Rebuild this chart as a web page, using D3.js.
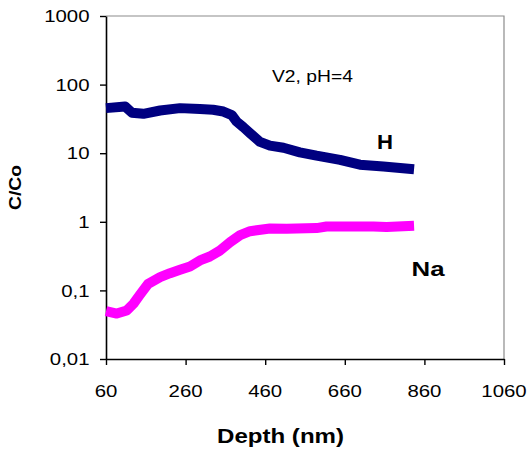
<!DOCTYPE html>
<html>
<head>
<meta charset="utf-8">
<script src="https://cdn.jsdelivr.net/npm/d3@7"></script>
<style>
  body { margin: 0; background: #fff; }
  svg { display: block; }
  text { font-family: "Liberation Sans", Arial, sans-serif; fill: #000; }
</style>
</head>
<body>
<svg id="chart" width="529" height="453"></svg>
<script>
// Depth profile of H and Na (relative concentration C/Co), sample V2 at pH 4
const hDepth = [60, 108, 125, 154, 196, 246, 296, 329, 355, 376, 388, 405, 422, 447, 472, 506, 547, 589, 648, 698, 757, 799, 834];
const hValue = [45.4, 48, 39, 37.5, 41.9, 45.4, 44, 43, 40.5, 36, 29, 24, 19.6, 14.6, 12.9, 12.0, 10.3, 9.2, 8.0, 6.8, 6.4, 6.1, 5.85];

const naDepth = [60, 87, 112, 129, 145, 166, 196, 221, 246, 271, 296, 321, 346, 372, 397, 422, 472, 514, 589, 614, 732, 765, 834];
const naValue = [0.050, 0.046, 0.051, 0.064, 0.086, 0.125, 0.156, 0.178, 0.2, 0.223, 0.273, 0.312, 0.38, 0.505, 0.64, 0.73, 0.8, 0.79, 0.81, 0.855, 0.855, 0.837, 0.874];

const xTicks = [60, 260, 460, 660, 860, 1060];
const yTicks = [0.01, 0.1, 1, 10, 100, 1000];
const yTickLabels = ["0,01", "0,1", "1", "10", "100", "1000"];

const svg = d3.select("#chart");
const plot = { left: 106, right: 504, top: 16, bottom: 359 };

const x = d3.scaleLinear().domain([60, 1060]).range([plot.left, plot.right]);
const y = d3.scaleLog().domain([0.01, 1000]).range([plot.bottom, plot.top]);

// grey frame on the top and right
svg.append("path")
  .attr("d", `M${plot.left},${plot.top}H${plot.right}V${plot.bottom}`)
  .attr("fill", "none")
  .attr("stroke", "#8c8c8c")
  .attr("stroke-width", 1.2);

// y axis (log)
const yAxis = svg.append("g")
  .attr("transform", `translate(${plot.left},0)`)
  .call(d3.axisLeft(y).tickValues(yTicks)
    .tickFormat((d, i) => yTickLabels[i]).tickSize(6).tickSizeOuter(0));
yAxis.select(".domain").attr("stroke", "#000").attr("stroke-width", 1.6);
yAxis.selectAll(".tick line").attr("stroke", "#000").attr("stroke-width", 1.4);
yAxis.selectAll(".tick text")
  .attr("x", 0).attr("dy", "0.33em")
  .attr("transform", "translate(-16.5,0) scale(1.2,1)")
  .style("font-size", "17px")
  .attr("text-anchor", "end");

// x axis
const xAxis = svg.append("g")
  .attr("transform", `translate(0,${plot.bottom})`)
  .call(d3.axisBottom(x).tickValues(xTicks).tickFormat(d3.format("d"))
    .tickSize(6).tickSizeOuter(0));
xAxis.select(".domain").attr("stroke", "#000").attr("stroke-width", 1.6);
xAxis.selectAll(".tick line").attr("stroke", "#000").attr("stroke-width", 1.4);
xAxis.selectAll(".tick text")
  .attr("y", 0).attr("dy", 0)
  .attr("transform", "translate(-0.5,38) scale(1.2,1)")
  .style("font-size", "17px")
  .attr("text-anchor", "middle");

// series, drawn as thick traces of dense markers
const line = d3.line().x(d => x(d[0])).y(d => y(d[1]));
const series = [
  { name: "H", depth: hDepth, value: hValue, color: "#000080" },
  { name: "Na", depth: naDepth, value: naValue, color: "#ff00ff" }
];
series.forEach(s => {
  svg.append("path")
    .datum(d3.zip(s.depth, s.value))
    .attr("d", line)
    .attr("fill", "none")
    .attr("stroke", s.color)
    .attr("stroke-width", 10)
    .attr("stroke-linejoin", "round")
    .attr("stroke-linecap", "butt");
});

// text labels
function label(txt, px, py, opts) {
  const t = svg.append("text")
    .attr("x", px).attr("y", py)
    .style("font-size", opts.size + "px")
    .style("font-weight", opts.bold ? "bold" : "normal")
    .attr("text-anchor", opts.anchor || "start")
    .text(txt);
  if (opts.width) t.attr("textLength", opts.width).attr("lengthAdjust", "spacingAndGlyphs");
  if (opts.transform) t.attr("transform", opts.transform);
  return t;
}

label("V2, pH=4", 272, 82, { size: 17, width: 81 });
label("H", 377, 149, { size: 21, bold: true, width: 16 });
label("Na", 411.5, 276, { size: 21, bold: true, width: 33 });
label("Depth (nm)", 217, 443, { size: 20, bold: true, width: 127 });
label("C/Co", 0, 0, { size: 16, bold: true, width: 45, anchor: "middle",
  transform: "translate(21,187.5) rotate(-90)" });
</script>
</body>
</html>
